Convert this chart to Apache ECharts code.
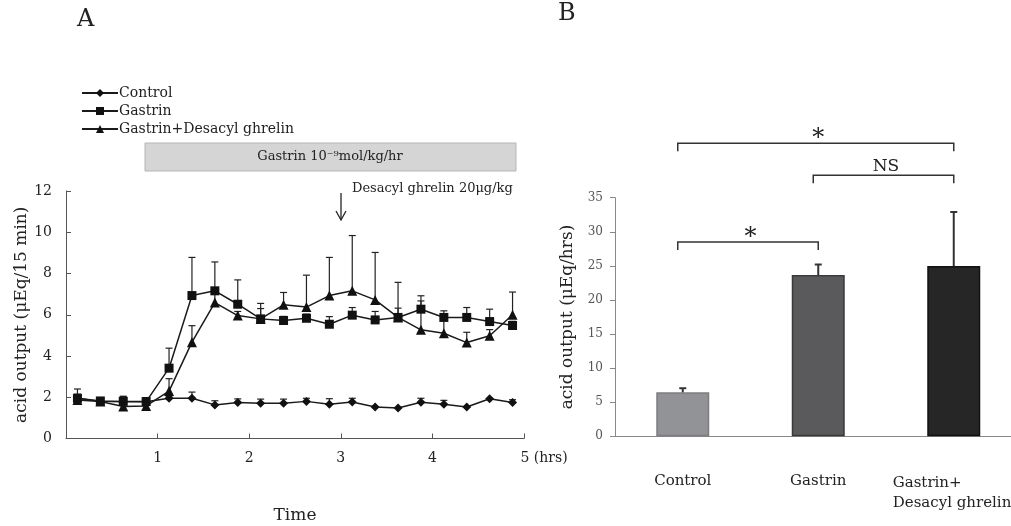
<!DOCTYPE html>
<html><head><meta charset="utf-8">
<script src="https://cdn.jsdelivr.net/npm/echarts@6/dist/echarts.min.js"></script>
<style>html,body{margin:0;padding:0;background:#fff;overflow:hidden}#c{width:1024px;height:526px}</style>
</head><body><div id="c"></div>
<script>
// ---- Panel A data (15-min collection periods, hours) ----
const timeHrs = [0.125,0.375,0.625,0.875,1.125,1.375,1.625,1.875,2.125,2.375,2.625,2.875,3.125,3.375,3.625,3.875,4.125,4.375,4.625,4.875];
const xTicksA = [0,1,2,3,4,5];
const control    = [1.95,1.80,1.78,1.78,1.95,1.95,1.63,1.74,1.71,1.71,1.80,1.66,1.77,1.53,1.48,1.76,1.66,1.53,1.93,1.74];
const controlErr = [0.20,0.10,0.25,0.20,0.10,0.30,0.20,0.18,0.20,0.20,0.15,0.27,0.18,0,0,0.19,0.19,0,0,0.14];
const gastrin    = [1.95,1.82,1.80,1.79,3.41,6.93,7.16,6.51,5.80,5.72,5.83,5.54,5.98,5.75,5.87,6.27,5.87,5.87,5.67,5.48];
const gastrinErr = [0.45,0.10,0.25,0.15,0.97,1.85,1.40,1.18,0.75,0.20,0.20,0.37,0.37,0.41,0.45,0.65,0.32,0.48,0.60,0.20];
const gdg        = [1.87,1.79,1.55,1.58,2.30,4.67,6.59,5.96,5.80,6.48,6.37,6.93,7.16,6.72,5.87,5.27,5.10,4.65,4.98,6.00];
const gdgErr     = [0.20,0.10,0.20,0.20,0.60,0.80,0.50,0.20,0.50,0.60,1.55,1.85,2.68,2.30,1.70,1.40,0.90,0.50,0.30,1.10];
const seriesNamesA = ['Control','Gastrin','Gastrin+Desacyl ghrelin'];

// ---- Panel B data ----
const barCategories = ['Control','Gastrin','Gastrin+Desacyl ghrelin'];
const barValues = [6.45, 23.65, 24.97];
const barErrors = [0.60, 1.55, 7.93];
const bracketPairs = [[0,1],[1,2],[0,2]];
const bracketLevels = [28.5, 38.3, 43.0];
const bracketLabels = ['*','NS','*'];

const FONT = 'DejaVu Serif';
const chart = echarts.init(document.getElementById('c'));

function pts(vals){ return timeHrs.map((t,i)=>[t, vals[i]]); }
function errData(vals, errs){ return timeHrs.map((t,i)=>[t, vals[i], errs[i]]); }

function errRenderA(params, api){
  const x = api.value(0), y = api.value(1), e = api.value(2);
  if (!e) return null;
  const p0 = api.coord([x, y]), p1 = api.coord([x, y + e]);
  const st = {stroke:'#222', lineWidth:1.2};
  return {type:'group', children:[
    {type:'line', shape:{x1:p0[0], y1:p0[1], x2:p1[0], y2:p1[1]}, style:st},
    {type:'line', shape:{x1:p1[0]-3.5, y1:p1[1], x2:p1[0]+3.5, y2:p1[1]}, style:st}
  ]};
}
function errRenderB(params, api){
  const x = api.value(0), y = api.value(1), e = api.value(2);
  const p0 = api.coord([x, y]), p1 = api.coord([x, y + e]);
  const st = {stroke:'#333', lineWidth:2};
  return {type:'group', children:[
    {type:'line', shape:{x1:p0[0], y1:p0[1], x2:p1[0], y2:p1[1]}, style:st},
    {type:'line', shape:{x1:p1[0]-3.5, y1:p1[1], x2:p1[0]+3.5, y2:p1[1]}, style:st}
  ]};
}
function bracketRender(params, api){
  const a = api.coord([api.value(0), api.value(2)]);
  const b = api.coord([api.value(1), api.value(2)]);
  const lab = bracketLabels[params.dataIndex];
  const isStar = lab === '*';
  return {type:'group', children:[
    {type:'polyline', shape:{points:[[a[0]-5, a[1]+8],[a[0]-5, a[1]],[b[0], b[1]],[b[0], b[1]+8]]},
     style:{stroke:'#333', lineWidth:1.5, fill:null}},
    {type:'text', x:(a[0]+b[0])/2, y: a[1] - (isStar ? 4 : 9),
     style:{text: lab, fontFamily: FONT, fontSize: isStar ? 24 : 17, fill:'#222',
            align:'center', verticalAlign:'middle'}}
  ]};
}

const lineStyle = {color:'#1a1a1a', width:1.5};
const option = {
  animation: false,
  backgroundColor: '#fff',
  textStyle: {fontFamily: FONT, color:'#222'},
  legend: {
    data: seriesNamesA, orient:'vertical', left: 76, top: 81,
    itemWidth: 36, itemHeight: 10, itemGap: 4,
    textStyle: {fontFamily: FONT, fontSize: 14, color:'#222', padding:[0,0,0,-4]}
  },
  grid: [
    {left: 66, top: 191, width: 458, height: 247.5},
    {left: 615, top: 197.7, width: 406.5, height: 238.6}
  ],
  xAxis: [
    {type:'value', gridIndex:0, min:0, max:5, interval:1,
     name:'Time', nameLocation:'middle', nameGap:69,
     nameTextStyle:{fontFamily:FONT, fontSize:17, color:'#222'},
     axisLine:{lineStyle:{color:'#555', width:1}},
     axisTick:{inside:true, length:5, lineStyle:{color:'#555'}},
     splitLine:{show:false},
     axisLabel:{margin:13, fontFamily:FONT, fontSize:14, color:'#222',
       formatter: v => v === xTicksA[0] ? '' : (v === xTicksA[5] ? '{p| }5{b| (hrs)}' : String(v)),
       rich:{p:{width:40, fontFamily:FONT, fontSize:14}, b:{fontFamily:FONT, fontSize:14, color:'#222'}}}},
    {type:'category', gridIndex:1, data: barCategories,
     axisLine:{lineStyle:{color:'#888', width:1}},
     axisTick:{length:5, lineStyle:{color:'#888'}},
     axisLabel:{margin:37, fontFamily:FONT, fontSize:15, color:'#222', interval:0,
       formatter: (v, i) => i === 2 ? '{l|Gastrin+}\n{l|Desacyl ghrelin}' : v,
       rich:{l:{width:122, align:'left', fontFamily:FONT, fontSize:15, color:'#222', lineHeight:20}}}}
  ],
  yAxis: [
    {type:'value', gridIndex:0, min:0, max:12, interval:2,
     name:'acid output (μEq/15 min)', nameLocation:'middle', nameGap:33,
     nameTextStyle:{fontFamily:FONT, fontSize:17, color:'#222'},
     axisLine:{show:true, lineStyle:{color:'#555', width:1}},
     axisTick:{show:true, inside:true, length:5, lineStyle:{color:'#555'}},
     splitLine:{show:false},
     axisLabel:{margin:14, fontFamily:FONT, fontSize:14, color:'#222'}},
    {type:'value', gridIndex:1, min:0, max:35, interval:5,
     name:'acid output (μEq/hrs)', nameLocation:'middle', nameGap:39,
     nameTextStyle:{fontFamily:FONT, fontSize:17, color:'#222'},
     axisLine:{show:true, lineStyle:{color:'#888', width:1}},
     axisTick:{show:true, length:5, lineStyle:{color:'#888'}},
     splitLine:{show:false},
     axisLabel:{margin:12, fontFamily:FONT, fontSize:12, color:'#555'}}
  ],
  series: [
    {type:'custom', xAxisIndex:0, yAxisIndex:0, renderItem: errRenderA, data: errData(control, controlErr), z:1, silent:true},
    {type:'custom', xAxisIndex:0, yAxisIndex:0, renderItem: errRenderA, data: errData(gastrin, gastrinErr), z:1, silent:true},
    {type:'custom', xAxisIndex:0, yAxisIndex:0, renderItem: errRenderA, data: errData(gdg, gdgErr), z:1, silent:true},
    {name: seriesNamesA[0], type:'line', xAxisIndex:0, yAxisIndex:0, data: pts(control),
     symbol:'diamond', symbolSize:9, lineStyle, itemStyle:{color:'#111'}, z:3},
    {name: seriesNamesA[1], type:'line', xAxisIndex:0, yAxisIndex:0, data: pts(gastrin),
     symbol:'rect', symbolSize:9, lineStyle, itemStyle:{color:'#111'}, z:3},
    {name: seriesNamesA[2], type:'line', xAxisIndex:0, yAxisIndex:0, data: pts(gdg),
     symbol:'triangle', symbolSize:10, lineStyle, itemStyle:{color:'#111'}, z:3},
    {type:'bar', xAxisIndex:1, yAxisIndex:1, barWidth:53,
     data: barValues.map((v,i)=>({value:v, itemStyle:{
        color:['#929396','#5a5a5c','#262627'][i],
        borderColor:['#7d7e81','#3a3a3b','#111'][i], borderWidth:1.5}})), z:2},
    {type:'custom', xAxisIndex:1, yAxisIndex:1, renderItem: errRenderB,
     data: barValues.map((v,i)=>[i, v, barErrors[i]]), z:3, silent:true},
    {type:'custom', xAxisIndex:1, yAxisIndex:1, renderItem: bracketRender, clip:false,
     encode:{x:0, y:2},
     data: bracketPairs.map((p,k)=>[p[0], p[1], bracketLevels[k]]), z:3, silent:true}
  ],
  graphic: [
    {type:'text', left:77, top:8, style:{text:'A', fontFamily:FONT, fontSize:24, fill:'#222'}},
    {type:'text', left:558, top:2, style:{text:'B', fontFamily:FONT, fontSize:24, fill:'#222'}},
    {type:'rect', shape:{x:145, y:143, width:371, height:28}, style:{fill:'#d5d5d5', stroke:'#b5b5b5', lineWidth:1}},
    {type:'text', x:330, y:157, style:{text:'Gastrin 10⁻⁹mol/kg/hr', fontFamily:FONT, fontSize:13, fill:'#222', align:'center', verticalAlign:'middle'}},
    {type:'line', shape:{x1:341, y1:193, x2:341, y2:220}, style:{stroke:'#222', lineWidth:1.3}},
    {type:'polyline', shape:{points:[[336,211],[341,220],[346,211]]}, style:{stroke:'#222', lineWidth:1.3, fill:null}},
    {type:'text', x:352, y:189, style:{text:'Desacyl ghrelin 20μg/kg', fontFamily:FONT, fontSize:13, fill:'#222', align:'left', verticalAlign:'middle'}}
  ]
};
chart.setOption(option);
</script></body></html>
